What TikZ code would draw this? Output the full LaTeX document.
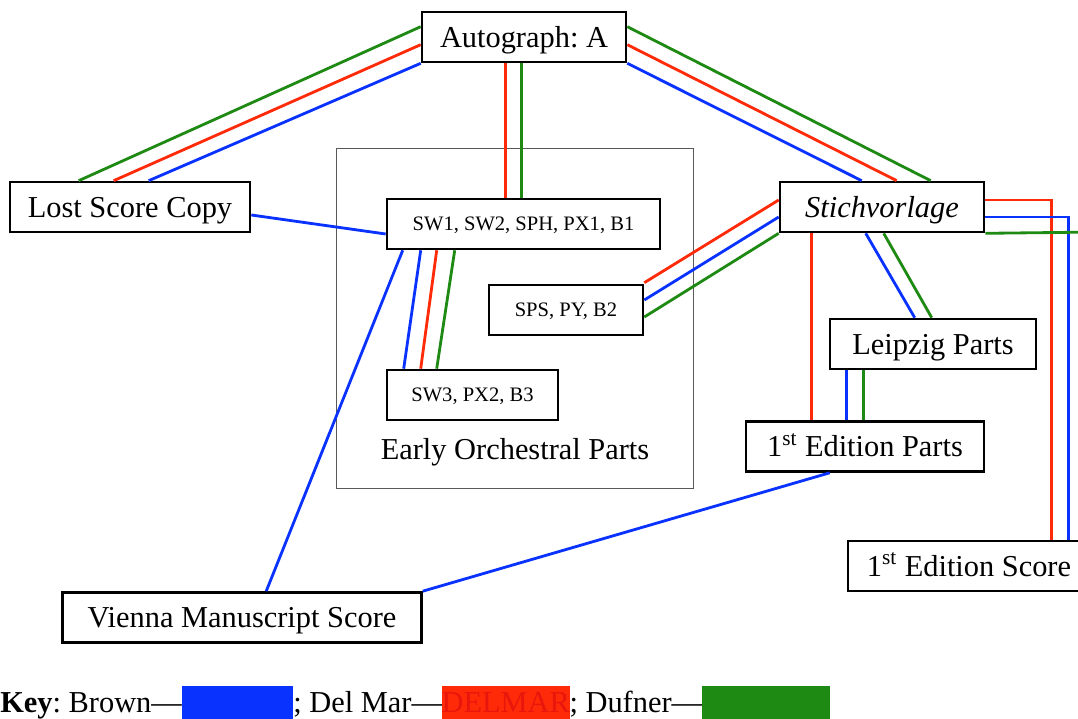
\documentclass[tikz,border=0pt]{standalone}
\usepackage{fontspec}
\setmainfont{Liberation Serif}
\usetikzlibrary{positioning,calc}
\definecolor{cbrown}{HTML}{0A32FF}
\definecolor{cdelmar}{HTML}{FF2A08}
\definecolor{cdelmartext}{HTML}{E8160C}
\definecolor{cdufner}{HTML}{1E8A14}
\frenchspacing
\begin{document}
\begin{tikzpicture}[x=0.02cm,y=-0.02cm,
	box/.style={draw,line width=1.5pt,inner sep=0pt,minimum height=1cm,text height=11.4pt,text depth=0pt,font=\fontsize{17.3}{20}\selectfont},
	part/.style={box,text height=7.7pt,font=\fontsize{11.7}{14}\selectfont},
	brownln/.style={cbrown,line width=1.6pt},
	delmarln/.style={cdelmar,line width=1.6pt},
	dufnerln/.style={cdufner,line width=1.6pt}]
	\useasboundingbox (0,0) rectangle (1078,719);
	\node[draw=black!65,line width=0.6pt,minimum width=7.14cm,minimum height=6.82cm] (grp) at (515,318.5) {};
	\node[font=\fontsize{17.3}{20}\selectfont] (eop) at (515,452) {Early Orchestral Parts};
	\node[box,minimum width=4.08cm] (auto) at (524,37) {Autograph: A};
	\node[box,minimum width=4.8cm] (lost) at (130,207) {Lost Score Copy};
	\node[part,minimum width=5.46cm] (sw1) at (523.5,224) {SW1, SW2, SPH, PX1, B1};
	\node[part,minimum width=3.08cm] (sps) at (566,310) {SPS, PY, B2};
	\node[part,minimum width=3.42cm] (sw3) at (472.5,395) {SW3, PX2, B3};
	\node[box,minimum width=4.08cm] (stich) at (882,207) {\itshape Stichvorlage};
	\node[box,minimum width=4.12cm] (leip) at (933,344) {Leipzig Parts};
	\node[box,minimum width=4.76cm] (edparts) at (865,446.5) {1\textsuperscript{st} Edition Parts};
	\node[box,minimum width=4.84cm] (edscore) at (969,566) {1\textsuperscript{st} Edition Score};
	\node[box,minimum width=7.18cm] (vienna) at (242,617.5) {Vienna Manuscript Score};
	\coordinate (gout) at (1100,232);
	\draw[dufnerln] ($(auto.north west)+(0,16)$) -- ($(lost.north west)+(70,0)$);
	\draw[delmarln] ($(auto.north west)+(0,34)$) -- ($(lost.north west)+(105,0)$);
	\draw[brownln] (auto.south west) -- ($(lost.north west)+(140,0)$);
	\draw[dufnerln] ($(auto.north east)+(0,16)$) -- ($(stich.north west)+(152,0)$);
	\draw[delmarln] ($(auto.north east)+(0,34)$) -- ($(stich.north west)+(118,0)$);
	\draw[brownln] (auto.south east) -- ($(stich.north west)+(83,0)$);
	\draw[delmarln] ($(auto.south west)+(85,0)$) coordinate (a1) -- (a1 |- sw1.north);
	\draw[dufnerln] ($(auto.south west)+(101,0)$) coordinate (a2) -- (a2 |- sw1.north);
	\draw[brownln] ($(lost.east)+(0,8)$) -- ($(sw1.west)+(0,10)$);
	\draw[brownln] ($(sw1.south west)+(35,0)$) -- ($(sw3.north west)+(18,0)$);
	\draw[delmarln] ($(sw1.south west)+(51,0)$) -- ($(sw3.north west)+(35,0)$);
	\draw[dufnerln] ($(sw1.south west)+(69,0)$) -- ($(sw3.north west)+(51,0)$);
	\draw[brownln] ($(sw1.south west)+(17,0)$) -- ($(vienna.north west)+(205,0)$);
	\draw[delmarln] ($(sps.north east)+(0,-1)$) -- ($(stich.west)+(0,-7)$);
	\draw[brownln] ($(sps.east)+(0,-10)$) -- ($(stich.west)+(0,10)$);
	\draw[dufnerln] ($(sps.east)+(0,7)$) -- (stich.south west);
	\draw[brownln] ($(stich.south west)+(87,0)$) -- ($(leip.north west)+(86,0)$);
	\draw[dufnerln] ($(stich.south west)+(105,0)$) -- ($(leip.north west)+(103,0)$);
	\draw[delmarln] ($(stich.south west)+(33,0)$) coordinate (s1) -- (s1 |- edparts.north);
	\draw[brownln] ($(leip.south west)+(18,0)$) coordinate (l1) -- (l1 |- edparts.north);
	\draw[dufnerln] ($(leip.south west)+(35,0)$) coordinate (l2) -- (l2 |- edparts.north);
	\draw[delmarln] ($(stich.east)+(0,-7)$) -| ($(edscore.north west)+(205,0)$);
	\draw[brownln] ($(stich.east)+(0,10)$) -| ($(edscore.north west)+(222,0)$);
	\draw[dufnerln] (stich.south east) -- (gout);
	\draw[brownln] ($(edparts.south west)+(85,0)$) -- (vienna.north east);
	\node[anchor=base west,inner sep=0pt,font=\fontsize{17.3}{20}\selectfont] (key) at (0,712)
		{\setlength{\fboxsep}{0pt}\textbf{Key}: Brown---\colorbox{cbrown}{\makebox[63.5pt]{\rule[-9pt]{0pt}{23.7pt}}}; Del Mar---\colorbox{cdelmar}{\makebox[72.6pt]{\rule[-9pt]{0pt}{23.7pt}\textcolor{cdelmartext}{DELMAR}}}; Dufner---\colorbox{cdufner}{\makebox[72.6pt]{\rule[-9pt]{0pt}{23.7pt}}}};
\end{tikzpicture}
\end{document}
